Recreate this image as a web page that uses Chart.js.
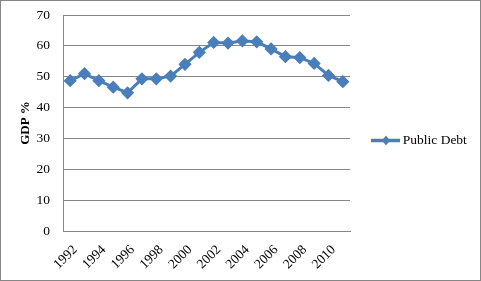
<!DOCTYPE html>
<html>
<head>
<meta charset="utf-8">
<script src="https://cdn.jsdelivr.net/npm/chart.js@4"></script>
<style>
  html, body { margin: 0; padding: 0; background: #fff; }
  #wrap { width: 479px; height: 279px; border: 1px solid #868686; }
</style>
</head>
<body>
<div id="wrap"><canvas id="chart" width="479" height="279"></canvas></div>
<script>
const years = ["1992", "1993", "1994", "1995", "1996", "1997", "1998", "1999", "2000", "2001",
  "2002", "2003", "2004", "2005", "2006", "2007", "2008", "2009", "2010", "2011"];
const publicDebt = [48.7, 51.0, 48.7, 46.6, 44.8, 49.3, 49.3, 50.2, 54.0, 57.9,
  61.1, 60.9, 61.6, 61.3, 59.0, 56.5, 56.2, 54.3, 50.4, 48.4];
const yTicks = [0, 10, 20, 30, 40, 50, 60, 70];

const blue = "#4A7EBB";
const font = "'Liberation Serif', 'Times New Roman', serif";
const legendShiftY = -7;

// fixed legend width so the plot ends where the original does,
// legend moved up a bit, and a line + diamond symbol drawn by hand
const legendTweaks = {
  id: "legendTweaks",
  afterInit(chart) {
    const lg = chart.legend;
    const fit = lg.fit.bind(lg);
    lg.fit = function () { fit(); this.width = 130; };
    const draw = lg._draw.bind(lg);
    lg._draw = function () {
      this.ctx.save();
      this.ctx.translate(0, legendShiftY);
      draw();
      this.ctx.restore();
    };
  },
  afterDraw(chart) {
    const box = chart.legend && chart.legend.legendHitBoxes[0];
    if (!box) return;
    const g = chart.ctx;
    const x0 = box.left, cy = box.top + box.height / 2 + legendShiftY;
    const cx = x0 + 15;
    g.save();
    g.strokeStyle = blue;
    g.lineWidth = 3.5;
    g.beginPath(); g.moveTo(x0, cy); g.lineTo(x0 + 29, cy); g.stroke();
    g.fillStyle = blue;
    g.beginPath();
    g.moveTo(cx, cy - 5); g.lineTo(cx + 4, cy); g.lineTo(cx, cy + 5); g.lineTo(cx - 4, cy);
    g.closePath(); g.fill();
    g.restore();
  }
};

new Chart(document.getElementById("chart"), {
  type: "line",
  data: {
    labels: years,
    datasets: [{
      label: "Public Debt",
      data: publicDebt,
      borderColor: blue,
      backgroundColor: blue,
      borderWidth: 3,
      pointStyle: "rectRot",
      pointRadius: 4.5,
      pointHoverRadius: 4.5,
      tension: 0
    }]
  },
  options: {
    responsive: false,
    animation: false,
    layout: { padding: { top: 14, right: 0, left: 0, bottom: 0 } },
    plugins: {
      tooltip: { enabled: false },
      legend: {
        position: "right",
        labels: {
          font: { family: font, size: 13.5 },
          color: "#000",
          padding: 21,
          boxWidth: 25,
          boxHeight: 4,
          generateLabels: chart => [{
            text: "Public Debt",
            fillStyle: "rgba(0,0,0,0)",
            strokeStyle: "rgba(0,0,0,0)",
            lineWidth: 0,
            datasetIndex: 0
          }]
        }
      }
    },
    scales: {
      x: {
        offset: true,
        grid: { display: false, drawTicks: false },
        border: { color: "#868686" },
        afterFit: s => { s.paddingLeft = 0; s.paddingRight = 0; s.height = 49; },
        ticks: {
          autoSkip: false,
          maxRotation: 45,
          minRotation: 45,
          padding: 11,
          labelOffset: 5,
          color: "#000",
          font: { family: font, size: 13.5 },
          callback: function (v, i) { return i % 2 === 0 ? years[i] : ""; }
        }
      },
      y: {
        min: 0,
        max: 70,
        afterBuildTicks: axis => { axis.ticks = yTicks.map(v => ({ value: v })); },
        afterFit: s => { s.width = 62; s.paddingTop = 0; s.paddingBottom = 0; },
        grid: { color: "#868686", drawTicks: false },
        border: { color: "#868686" },
        ticks: {
          padding: 13,
          color: "#000",
          font: { family: font, size: 13.5 }
        },
        title: {
          display: true,
          text: "GDP %",
          color: "#000",
          padding: { top: 17, bottom: 0 },
          font: { family: font, size: 13, weight: "bold" }
        }
      }
    }
  },
  plugins: [legendTweaks]
});
</script>
</body>
</html>
